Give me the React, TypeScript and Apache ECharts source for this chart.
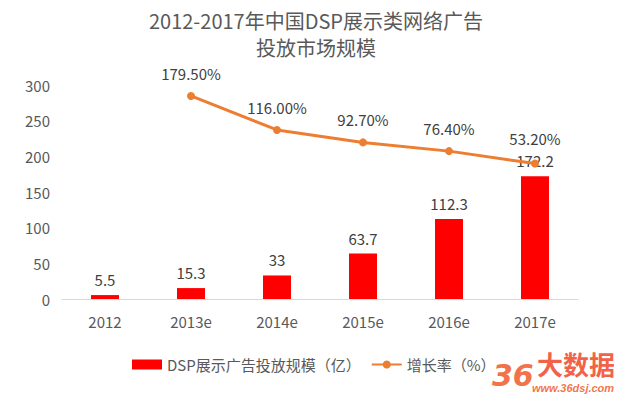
import React, { useEffect, useRef } from "react";
import * as echarts from "echarts";

const categories = ["2012", "2013e", "2014e", "2015e", "2016e", "2017e"];
const marketSize = [5.5, 15.3, 33, 63.7, 112.3, 172.2];
const growthRate: (number | null)[] = [null, 179.5, 116.0, 92.7, 76.4, 53.2];
const yTicks = [0, 50, 100, 150, 200, 250, 300];
const titleLines = ["2012-2017年中国DSP展示类网络广告", "投放市场规模"];

const FONT = '"Noto Sans CJK SC", "Noto Sans", sans-serif';

export default function App() {
  const ref = useRef<HTMLDivElement>(null);
  useEffect(() => {
    document.body.style.margin = "0";
    const chart = echarts.init(ref.current!, null, { renderer: "svg" });
    const titleStyle = {
      fontFamily: FONT,
      fontSize: 20,
      fontWeight: "normal",
      color: "#595959",
      lineHeight: 22,
    };
    const lastIdx = growthRate.length - 1;
    const lineData = growthRate.map((v, i) =>
      i === lastIdx ? { value: v, label: { distance: 14 } } : v
    );
    chart.setOption({
      animation: false,
      backgroundColor: "#ffffff",
      textStyle: { fontFamily: FONT },
      title: [
        { text: titleLines[0], left: "center", top: 9, padding: 0, textStyle: titleStyle },
        { text: titleLines[1], left: "center", top: 36, padding: 0, textStyle: titleStyle },
      ],
      legend: {
        top: 352,
        left: 127,
        itemGap: 10,
        textStyle: { fontFamily: FONT, fontSize: 15, color: "#595959" },
        data: [
          { name: "DSP展示广告投放规模（亿）", icon: "rect", itemStyle: { color: "#FF0000" } },
          { name: "增长率（%）" },
        ],
        itemWidth: 30,
        itemHeight: 10,
      },
      grid: { left: 62, right: 54, top: 85, bottom: 96, containLabel: false },
      xAxis: {
        type: "category",
        data: categories,
        axisLine: { lineStyle: { color: "#D9D9D9", width: 1 } },
        axisTick: { show: false },
        axisLabel: { color: "#595959", fontSize: 15, margin: 15, fontFamily: FONT },
      },
      yAxis: [
        {
          type: "value",
          min: yTicks[0],
          max: yTicks[yTicks.length - 1],
          interval: 50,
          axisLine: { show: false },
          axisTick: { show: false },
          splitLine: { show: false },
          axisLabel: { color: "#595959", fontSize: 15, margin: 12, fontFamily: FONT },
        },
        {
          type: "value",
          min: -200,
          max: 200,
          show: false,
          splitLine: { show: false },
        },
      ],
      series: [
        {
          name: "DSP展示广告投放规模（亿）",
          type: "bar",
          data: marketSize,
          barWidth: 28,
          itemStyle: { color: "#FF0000" },
          label: {
            show: true,
            position: "top",
            distance: 8,
            color: "#404040",
            fontSize: 15,
            fontFamily: FONT,
          },
        },
        {
          name: "增长率（%）",
          type: "line",
          yAxisIndex: 1,
          data: lineData,
          color: "#ED7D31",
          lineStyle: { color: "#ED7D31", width: 3 },
          itemStyle: { color: "#ED7D31" },
          symbol: "circle",
          symbolSize: 8,
          label: {
            show: true,
            position: "top",
            distance: 11,
            color: "#404040",
            fontSize: 15,
            fontFamily: FONT,
            formatter: (p: any) => Number(p.value).toFixed(2) + "%",
          },
        },
      ],
      graphic: [
        {
          type: "text",
          left: 492,
          top: 360,
          style: {
            text: "36",
            fontSize: 30,
            fontWeight: "bold",
            fontStyle: "italic",
            fill: "rgba(240,90,40,0.85)",
            fontFamily: "DejaVu Sans",
          },
        },
        {
          type: "text",
          left: 537,
          top: 350,
          style: {
            text: "大数据",
            fontSize: 26,
            fontWeight: "bold",
            fill: "rgba(240,70,40,0.85)",
            fontFamily: FONT,
          },
        },
        {
          type: "text",
          left: 532,
          top: 382,
          style: {
            text: "www.36dsj.com",
            fontSize: 11,
            fontWeight: "bold",
            fontStyle: "italic",
            fill: "rgba(240,90,40,0.85)",
            fontFamily: "Liberation Sans",
          },
        },
      ],
    });
    return () => chart.dispose();
  }, []);
  return (
    <div
      ref={ref}
      style={{ width: 632, height: 395, position: "absolute", left: 0, top: 0 }}
    />
  );
}
